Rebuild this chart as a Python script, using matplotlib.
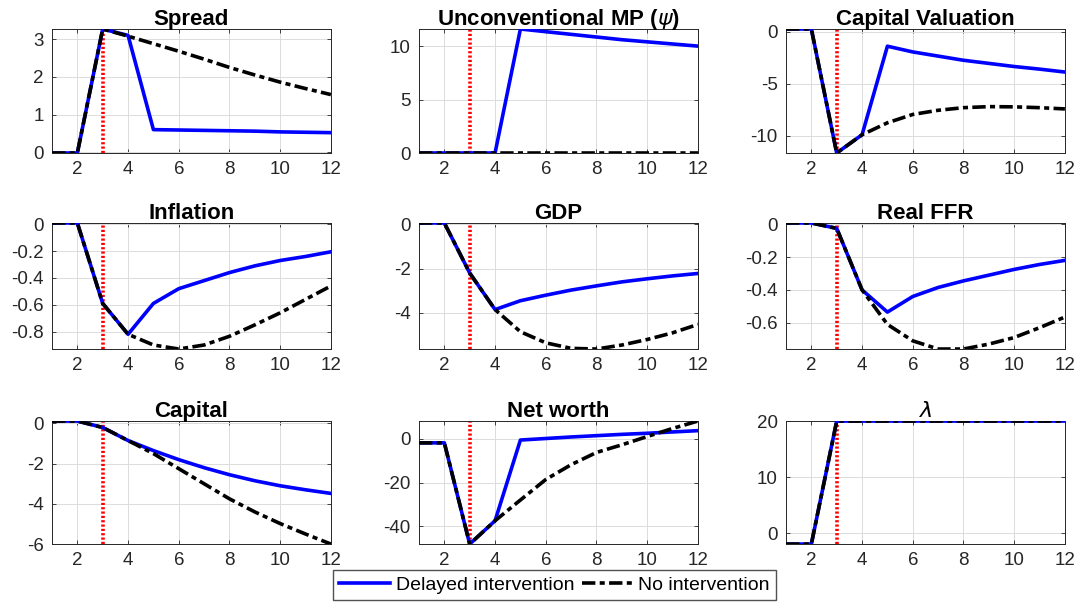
import matplotlib
matplotlib.use("Agg")
import matplotlib.pyplot as plt
import numpy as np

plt.rcParams["font.family"] = ["Liberation Sans", "DejaVu Sans"]
plt.rcParams["mathtext.fontset"] = "dejavusans"

# horizon (quarters)
periods = np.arange(1, 13)
shock_period = 3

titles = ["Spread", r"Unconventional MP ($\psi$)", "Capital Valuation",
          "Inflation", "GDP", "Real FFR",
          "Capital", "Net worth", r"$\lambda$"]

# delayed intervention (blue)
spread_delayed = [-0.02, -0.02, 3.27, 3.1, 0.6, 0.59, 0.58, 0.57, 0.56, 0.54, 0.53, 0.52]
ump_delayed = [0, 0, 0, 0, 11.6, 11.35, 11.1, 10.85, 10.6, 10.4, 10.2, 10.0]
capval_delayed = [0.25, 0.25, -11.65, -9.9, -1.4, -1.95, -2.35, -2.75, -3.05, -3.35, -3.6, -3.88]
infl_delayed = [0.01, 0.01, -0.59, -0.82, -0.59, -0.48, -0.42, -0.36, -0.31, -0.27, -0.24, -0.205]
gdp_delayed = [0.06, 0.06, -2.2, -3.85, -3.45, -3.2, -2.97, -2.78, -2.6, -2.46, -2.33, -2.22]
rffr_delayed = [0.008, 0.008, -0.025, -0.4, -0.535, -0.44, -0.385, -0.345, -0.31, -0.275, -0.245, -0.22]
capital_delayed = [0.12, 0.12, -0.2, -0.85, -1.35, -1.8, -2.2, -2.55, -2.85, -3.1, -3.3, -3.48]
networth_delayed = [-1.8, -1.8, -48.2, -37.5, -0.5, 0.2, 0.9, 1.5, 2.1, 2.6, 3.2, 3.8]
lambda_delayed = [-1.96, -1.96, 20, 20, 20, 20, 20, 20, 20, 20, 20, 20]

# no intervention (black)
spread_none = [-0.02, -0.02, 3.27, 3.08, 2.88, 2.68, 2.47, 2.25, 2.05, 1.86, 1.69, 1.53]
ump_none = [0] * 12
capval_none = [0.25, 0.25, -11.65, -9.9, -8.75, -7.95, -7.55, -7.3, -7.2, -7.22, -7.3, -7.42]
infl_none = [0.01, 0.01, -0.59, -0.82, -0.9, -0.93, -0.9, -0.835, -0.75, -0.66, -0.56, -0.46]
gdp_none = [0.06, 0.06, -2.2, -3.85, -4.85, -5.35, -5.6, -5.63, -5.45, -5.2, -4.9, -4.52]
rffr_none = [0.008, 0.008, -0.025, -0.4, -0.61, -0.71, -0.76, -0.76, -0.73, -0.69, -0.63, -0.565]
capital_none = [0.12, 0.12, -0.2, -0.85, -1.5, -2.25, -3.0, -3.75, -4.4, -4.98, -5.5, -6.0]
networth_none = [-1.8, -1.8, -48.2, -37.5, -28.0, -18.6, -11.8, -6.2, -2.7, 1.1, 4.8, 8.2]
lambda_none = [-1.96, -1.96, 20, 20, 20, 20, 20, 20, 20, 20, 20, 20]

delayed = [spread_delayed, ump_delayed, capval_delayed, infl_delayed, gdp_delayed,
           rffr_delayed, capital_delayed, networth_delayed, lambda_delayed]
no_interv = [spread_none, ump_none, capval_none, infl_none, gdp_none,
             rffr_none, capital_none, networth_none, lambda_none]

yticks = [[0, 1, 2, 3], [0, 5, 10], [-10, -5, 0],
          [-0.8, -0.6, -0.4, -0.2, 0], [-4, -2, 0], [-0.6, -0.4, -0.2, 0],
          [-6, -4, -2, 0], [-40, -20, 0], [0, 10, 20]]

fig = plt.figure(figsize=(10.81, 6.12), dpi=100)

lefts = [0.0481, 0.3876, 0.7271]
bottoms = [0.750, 0.4297, 0.111]
heights = [0.2026, 0.206, 0.201]
width = 0.258

for i in range(9):
    r, c = divmod(i, 3)
    ax = fig.add_axes([lefts[c], bottoms[r], width, heights[r]])

    lo = min(min(delayed[i]), min(no_interv[i]))
    hi = max(max(delayed[i]), max(no_interv[i]))

    l1, = ax.plot(periods, delayed[i], color="#0000ff", lw=2.6,
                  label="Delayed intervention", zorder=3)
    l2, = ax.plot(periods, no_interv[i], color="black", lw=2.6,
                  dashes=(3.7, 1.2, 1.4, 1.2), label="No intervention", zorder=4)
    ax.plot([shock_period, shock_period], [lo, hi], color="red", lw=2.6,
            linestyle=(0, (0.6, 0.6)), zorder=2)

    ax.set_xlim(1, 12)
    ax.set_ylim(lo, hi)
    ax.set_xticks([2, 4, 6, 8, 10, 12])
    ax.set_yticks(yticks[i])
    ax.set_yticklabels([f"{t:g}" for t in yticks[i]])

    weight = "normal" if i == 8 else "bold"
    ax.set_title(titles[i], fontsize=16, fontweight=weight, pad=3)

    ax.grid(True, color="#dcdcdc", lw=0.7)
    ax.set_axisbelow(True)
    ax.tick_params(direction="in", length=3, width=0.6, labelsize=13.5,
                   colors="#262626", top=True, right=True, pad=6)
    for sp in ax.spines.values():
        sp.set_color("#262626")
        sp.set_linewidth(0.7)

fig.legend(handles=[l1, l2], loc="center", bbox_to_anchor=(0.513, 0.044),
           ncol=2, fontsize=14, frameon=True, fancybox=False,
           edgecolor="#262626", handlelength=2.6, handletextpad=0.3,
           columnspacing=0.4, borderpad=0.3, borderaxespad=0)

plt.savefig("out.png", dpi=100)
plt.close()
